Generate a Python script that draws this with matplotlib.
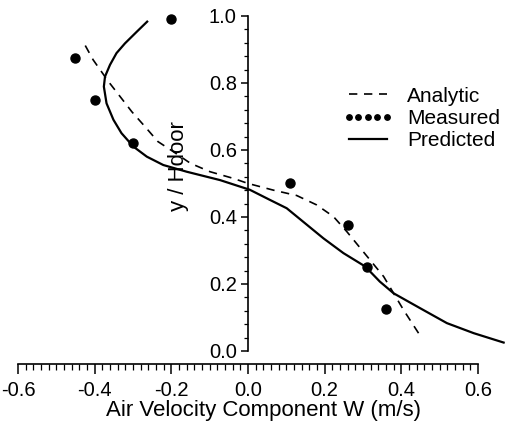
import matplotlib
matplotlib.use("Agg")
import numpy as np
import matplotlib.pyplot as plt
from matplotlib.ticker import FixedLocator, FormatStrFormatter

plt.rcParams["font.family"] = ["Liberation Sans", "DejaVu Sans"]

# measured points (W in m/s, y/Hdoor)
meas_w = [0.36, 0.31, 0.26, 0.11, -0.30, -0.40, -0.45, -0.20]
meas_y = [0.125, 0.25, 0.375, 0.50, 0.62, 0.75, 0.875, 0.99]

# predicted profile
pred_y = [0.025, 0.053, 0.083, 0.127, 0.172, 0.207, 0.252, 0.292, 0.336, 0.381,
          0.426, 0.451, 0.481, 0.510, 0.535, 0.555, 0.580, 0.610, 0.650, 0.690,
          0.739, 0.789, 0.819, 0.854, 0.889, 0.918, 0.953, 0.983]
pred_w = [0.667, 0.589, 0.519, 0.45, 0.38, 0.344, 0.306, 0.249, 0.197, 0.149,
          0.101, 0.057, 0.005, -0.073, -0.160, -0.221, -0.264, -0.299, -0.330, -0.351,
          -0.369, -0.376, -0.373, -0.360, -0.343, -0.321, -0.290, -0.263]

# analytic profile
ana_y = [0.053, 0.122, 0.222, 0.307, 0.356, 0.401, 0.436, 0.464, 0.48, 0.50,
         0.515, 0.535, 0.560, 0.595, 0.625, 0.670, 0.714, 0.754, 0.804, 0.869, 0.923]
ana_w = [0.445, 0.406, 0.354, 0.293, 0.258, 0.223, 0.179, 0.127, 0.066, 0.0,
         -0.038, -0.099, -0.150, -0.195, -0.235, -0.269, -0.303, -0.330, -0.364,
         -0.404, -0.430]

W, H = 509, 422
fig = plt.figure(figsize=(W / 100, H / 100), dpi=100)
x_lo, x_hi = -0.6, 0.68
y_lo, y_hi = -0.039, 1.04
ux, uy = 383.3, 335.0
ax = fig.add_axes([18 / W, 58 / H, (x_hi - x_lo) * ux / W, (y_hi - y_lo) * uy / H])
ax.set_xlim(x_lo, x_hi)
ax.set_ylim(y_lo, y_hi)

ax.plot(ana_w, ana_y, ls=(0, (5, 4)), color="black", lw=1.2, label="Analytic")
ax.plot(meas_w, meas_y, ls="none", marker="o", ms=6.5, color="black",
        label="Measured", clip_on=False)
ax.plot(pred_w, pred_y, ls="-", color="black", lw=1.6, label="Predicted")

for s in ("top", "right"):
    ax.spines[s].set_visible(False)
ax.spines["left"].set_position(("data", 0.0))
ax.spines["left"].set_bounds(0, 1)
ax.spines["bottom"].set_bounds(-0.6, 0.6)
ax.spines["left"].set_linewidth(1.2)
ax.spines["bottom"].set_linewidth(1.2)

ax.set_xticks([-0.6, -0.4, -0.2, 0.0, 0.2, 0.4, 0.6])
ax.set_yticks([0.0, 0.2, 0.4, 0.6, 0.8, 1.0])
ax.xaxis.set_minor_locator(FixedLocator(np.round(np.arange(-0.6, 0.6001, 0.02), 2)))
ax.yaxis.set_minor_locator(FixedLocator(np.round(np.arange(0, 1.0001, 0.04), 2)))
ax.xaxis.set_major_formatter(FormatStrFormatter("%.1f"))
ax.yaxis.set_major_formatter(FormatStrFormatter("%.1f"))
ax.tick_params(axis="both", which="major", direction="out", length=7, width=1.1,
               labelsize=14.5)
ax.tick_params(axis="both", which="minor", direction="out", length=4, width=0.9)
ax.tick_params(axis="x", which="major", pad=5)
ax.tick_params(axis="y", which="major", length=5, pad=3)
ax.tick_params(axis="y", which="minor", length=3)

ax.set_xlabel("Air Velocity Component W (m/s)", fontsize=16, labelpad=0)
ax.text(-0.18, 0.552, "y / Hdoor", rotation=90, fontsize=16,
        ha="center", va="center")

ax.legend(loc="upper left", bbox_to_anchor=(0.645, 0.79), frameon=False,
          fontsize=15, numpoints=5, markerscale=0.6, handlelength=2.4,
          handletextpad=0.7, labelspacing=0.15, borderaxespad=0)

fig.savefig("out.png", dpi=100, facecolor="white")
